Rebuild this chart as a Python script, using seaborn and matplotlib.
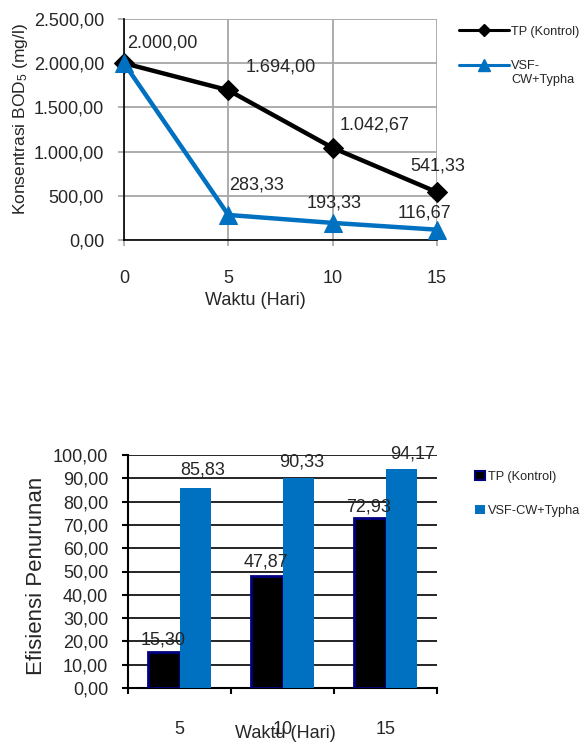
import matplotlib
matplotlib.use('Agg')
import matplotlib.pyplot as plt
import seaborn as sns
import pandas as pd
from matplotlib.ticker import FuncFormatter, FixedLocator
from matplotlib.patches import Patch
from matplotlib.lines import Line2D

# ---------------- data ----------------
days_line = [0, 5, 10, 15]
tp_bod = [2000.00, 1694.00, 1042.67, 541.33]
vsf_bod = [2000.00, 283.33, 193.33, 116.67]
series_names = ['TP (Kontrol)', 'VSF-CW+Typha']
bod_ticks = [0, 500, 1000, 1500, 2000, 2500]

days_bar = ['5', '10', '15']
tp_eff = [15.30, 47.87, 72.93]
vsf_eff = [85.83, 90.33, 94.17]
eff_ticks = [0, 10, 20, 30, 40, 50, 60, 70, 80, 90, 100]

# ---------------- style ----------------
sns.set_style('white')
plt.rcParams['font.family'] = ['Liberation Sans', 'DejaVu Sans']
plt.rcParams['mathtext.default'] = 'regular'

BLUE = '#0070C0'
PX = 0.72  # points per pixel at dpi 100


def fmt_id(v, pos=None):
    s = f"{v:,.2f}"
    return s.replace(',', 'X').replace('.', ',').replace('X', '.')


fig = plt.figure(figsize=(5.82, 7.45), dpi=100)

# ================= top chart =================
ax1 = fig.add_axes([124 / 582, 1 - 240 / 745, 313 / 582, 221 / 745])
df_line = pd.DataFrame({
    'Hari': days_line * 2,
    'BOD': tp_bod + vsf_bod,
    'Seri': [series_names[0]] * 4 + [series_names[1]] * 4,
})
sns.lineplot(data=df_line[df_line['Seri'] == series_names[0]], x='Hari', y='BOD',
             color='black', marker='D', markersize=10, lw=3.2, ax=ax1,
             clip_on=False, zorder=3, markeredgecolor='black')
sns.lineplot(data=df_line[df_line['Seri'] == series_names[1]], x='Hari', y='BOD',
             color=BLUE, marker='^', markersize=13, lw=3.2, ax=ax1,
             clip_on=False, zorder=4, markeredgecolor=BLUE)

ax1.set_xlim(0, 15)
ax1.set_ylim(0, 2500)
ax1.xaxis.set_major_locator(FixedLocator(days_line))
ax1.yaxis.set_major_locator(FixedLocator(bod_ticks))
ax1.yaxis.set_major_formatter(FuncFormatter(fmt_id))
ax1.grid(True, color='#A6A6A6', lw=1.3)
for s in ['top', 'right']:
    ax1.spines[s].set_visible(False)
for s in ['left', 'bottom']:
    ax1.spines[s].set_color('black')
    ax1.spines[s].set_linewidth(1.2)
ax1.tick_params(axis='x', direction='out', length=6 * PX, width=1.2, color='#A6A6A6',
                pad=17, labelsize=13, bottom=True)
ax1.tick_params(axis='y', direction='out', length=6 * PX, width=1.2, color='#A6A6A6',
                pad=10, labelsize=13, left=True)
ax1.set_xlabel('Waktu (Hari)', fontsize=13)
ax1.xaxis.set_label_coords(0.42, -0.235)
ax1.set_ylabel('Konsentrasi BOD$_5$ (mg/l)', fontsize=12.5)
ax1.yaxis.set_label_coords(-0.30, 0.548)

tp_off = [(38, 20), (52, 23), (42, 23), (1, 26)]
vsf_off = [None, (28, 30), (1, 20), (-13, 17)]
for x, y, o in zip(days_line, tp_bod, tp_off):
    ax1.annotate(fmt_id(y), (x, y), xytext=(o[0] * PX, o[1] * PX), textcoords='offset points',
                 ha='center', va='center', fontsize=13, zorder=6)
for x, y, o in zip(days_line, vsf_bod, vsf_off):
    if o is None:
        continue
    ax1.annotate(fmt_id(y), (x, y), xytext=(o[0] * PX, o[1] * PX), textcoords='offset points',
                 ha='center', va='center', fontsize=13, zorder=6)

h_top = [Line2D([], [], color='black', lw=2.2, marker='D', markersize=6),
         Line2D([], [], color=BLUE, lw=2.2, marker='^', markersize=8)]
leg1 = ax1.legend(h_top, ['TP (Kontrol)', 'VSF-\nCW+Typha'], loc='upper left',
                  bbox_to_anchor=(459 / 582, 1 - 26 / 745), bbox_transform=fig.transFigure,
                  frameon=False, fontsize=9.2, handlelength=3.9, handletextpad=0.2,
                  labelspacing=1.75, borderaxespad=0, borderpad=0)
for col in leg1._legend_handle_box.get_children():
    for hp in col.get_children():
        hp.align = 'top'

# ================= bottom chart =================
ax2 = fig.add_axes([128 / 582, 1 - 688 / 745, 309 / 582, 233 / 745])
df_bar = pd.DataFrame({
    'Hari': days_bar * 2,
    'Eff': tp_eff + vsf_eff,
    'Seri': [series_names[0]] * 3 + [series_names[1]] * 3,
})
sns.barplot(data=df_bar, x='Hari', y='Eff', hue='Seri', order=days_bar,
            hue_order=series_names, palette=['black', BLUE], width=0.62,
            saturation=1, ax=ax2, legend=False, zorder=3)
for p in ax2.containers[0]:
    p.set_edgecolor('#000080')
    p.set_linewidth(2)
for p in ax2.containers[1]:
    p.set_edgecolor(BLUE)
    p.set_linewidth(0)

ax2.set_xlim(-0.5, 2.5)
ax2.set_ylim(0, 100)
ax2.yaxis.set_major_locator(FixedLocator(eff_ticks))
ax2.yaxis.set_major_formatter(FuncFormatter(fmt_id))
ax2.yaxis.grid(True, color='black', lw=1.2, zorder=0)
ax2.xaxis.grid(False)
ax2.set_axisbelow(True)
for s in ['top', 'right']:
    ax2.spines[s].set_visible(False)
for s in ['left', 'bottom']:
    ax2.spines[s].set_color('black')
    ax2.spines[s].set_linewidth(1.5)
ax2.xaxis.set_minor_locator(FixedLocator([-0.5, 0.5, 1.5, 2.5]))
ax2.tick_params(axis='x', which='major', length=0, pad=24, labelsize=13)
ax2.tick_params(axis='x', which='minor', direction='out', length=6 * PX, width=1.5,
                color='black', bottom=True)
ax2.tick_params(axis='y', direction='out', length=6 * PX, width=1.5, color='black',
                pad=10, labelsize=13, left=True)
ax2.set_xlabel('Waktu (Hari)', fontsize=13)
ax2.xaxis.set_label_coords(0.508, -0.16)
ax2.set_ylabel('Efisiensi Penurunan', fontsize=16)
ax2.yaxis.set_label_coords(-0.262, 0.483)

tp_lab_off = [(0, 4), (-1, 6), (-1, 3)]
vsf_lab_off = [(7, 10), (3, 7), (11, 6)]
for cont, vals, offs in [(ax2.containers[0], tp_eff, tp_lab_off),
                         (ax2.containers[1], vsf_eff, vsf_lab_off)]:
    for p, v, o in zip(cont, vals, offs):
        ax2.annotate(fmt_id(v), (p.get_x() + p.get_width() / 2, p.get_height()),
                     xytext=(o[0] * PX, o[1] * PX), textcoords='offset points',
                     ha='center', va='bottom', fontsize=13, zorder=6)

h_bot = [Patch(facecolor='black', edgecolor='#000080', lw=1.5),
         Patch(facecolor=BLUE, edgecolor=BLUE, lw=0)]
ax2.legend(h_bot, series_names, loc='upper left',
           bbox_to_anchor=(475 / 582, 1 - 471 / 745), bbox_transform=fig.transFigure,
           frameon=False, fontsize=9.2, handlelength=0.75, handleheight=0.75,
           handletextpad=0.3, labelspacing=1.7, borderaxespad=0, borderpad=0)

fig.savefig('out.png', dpi=100)
